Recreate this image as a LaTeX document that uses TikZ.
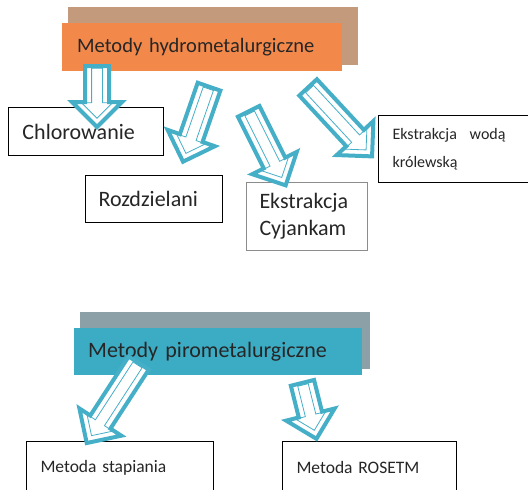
\documentclass[tikz,border=0pt]{standalone}
\usepackage{fontspec}
\setmainfont{Carlito}
\usetikzlibrary{shapes.arrows,calc,positioning,backgrounds}
\definecolor{hydroorange}{HTML}{F2894A}
\definecolor{hydroshadow}{HTML}{C49A7C}
\definecolor{piroteal}{HTML}{3CACC4}
\definecolor{piroshadow}{HTML}{8CA0A8}
\definecolor{arrteal}{HTML}{46AFC8}
\tikzset{
  head/.style={fill=#1,anchor=north west,inner xsep=15pt,align=left,text=black!85},
  leaf/.style={draw,line width=1pt,fill=white,anchor=north west,inner xsep=14pt,align=left,text=black!85},
  barr/.style={single arrow,draw=arrteal,line width=4pt,fill=white,inner xsep=0pt,inner ysep=10pt,single arrow head extend=13pt},
  barrin/.style={single arrow,draw=arrteal,line width=0.8pt,inner xsep=0pt,inner ysep=5pt,single arrow head extend=10pt},
}
% hollow block arrow from #1 to #2
\newcommand{\blockarr}[2]{%
  \path let \p1=($(#2)-(#1)$),\n1={atan2(\y1,\x1)},\n2={veclen(\x1,\y1)} in
    node[barr,minimum height=\n2,rotate=\n1] at ($(#1)!0.5!(#2)$) {}
    node[barrin,minimum height=\n2-11,rotate=\n1] at ($(#1)!0.5!(#2)$) {};}

\begin{document}
\begin{tikzpicture}[x=1pt,y=-1pt]
 \clip (0,0) rectangle (528,490);
 % hydro group
 \node[head=hydroorange,text width=250pt,minimum height=48pt,font=\fontsize{20.5}{23}\selectfont] (hydro) at (62,23) {Metody hydrometalurgiczne};
 \node[leaf,text width=127pt,minimum height=48pt,font=\fontsize{22}{24}\selectfont] (chlor) at (8,107) {Chlorowanie};
 \node[leaf,text width=111pt,minimum height=47pt,inner xsep=13pt,font=\fontsize{22}{24}\selectfont] (rozdz) at (85,175) {Rozdzielani};
 \node[leaf,draw=black!45,text width=95pt,minimum height=68pt,inner xsep=13pt,font=\fontsize{22}{27}\selectfont] (cyjan) at (246,182) {Ekstrakcja\\Cyjankam};
 \node[leaf,minimum height=67pt,font=\fontsize{16}{28}\selectfont] (woda) at (378,115) {\parbox{113pt}{Ekstrakcja wodą królewską}\rule{40pt}{0pt}};
 % piro group
 \node[head=piroteal,text width=260pt,minimum height=47pt,inner xsep=14pt,font=\fontsize{22}{24}\selectfont] (piro) at (74,328) {Metody pirometalurgiczne};
 \node[leaf,text width=159pt,minimum height=52pt,font=\fontsize{17.5}{19}\selectfont] (stap) at (26,441) {Metoda stapiania};
 \node[leaf,text width=146pt,minimum height=52pt,font=\fontsize{17.5}{19}\selectfont] (roset) at (282,441) {Metoda ROSETM};
 \begin{scope}[on background layer]
  \fill[hydroshadow] ($(hydro.north west)+(6,-16)$) rectangle ($(hydro.south east)+(16,-6)$);
  \fill[piroshadow] ($(piro.north west)+(6,-16)$) rectangle ($(piro.south east)+(8,-6)$);
 \end{scope}
 % arrow ends
 \coordinate (a1s) at (97,60);   \coordinate (a1e) at (97,121);
 \coordinate (a2s) at (211,81);  \coordinate (a2e) at (185,156);
 \coordinate (a3s) at (246,106); \coordinate (a3e) at (283,180);
 \coordinate (a4s) at (304,83);  \coordinate (a4e) at (368,152);
 \coordinate (a5s) at (142,358); \coordinate (a5e) at (90,438);
 \coordinate (a6s) at (301,377); \coordinate (a6e) at (315,433);
 \blockarr{a1s}{a1e} \blockarr{a2s}{a2e} \blockarr{a3s}{a3e}
 \blockarr{a4s}{a4e} \blockarr{a5s}{a5e} \blockarr{a6s}{a6e}
\end{tikzpicture}
\end{document}
